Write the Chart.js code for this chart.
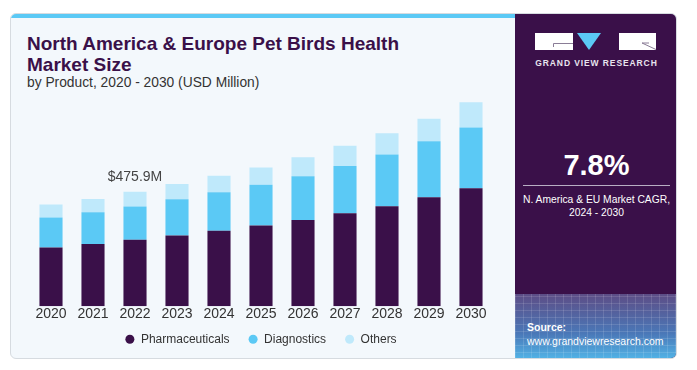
<!DOCTYPE html>
<html>
<head>
<meta charset="utf-8">
<script src="https://cdn.jsdelivr.net/npm/chart.js@4.4.1/dist/chart.umd.min.js"></script>
<style>
  body { margin: 0; width: 697px; height: 370px; background: #fff; font-family: "Liberation Sans", Arial, sans-serif; position: relative; overflow: hidden; }
  .card { position: absolute; left: 10px; top: 13px; width: 667px; height: 346px; background: #f3f8fc; border: 1px solid #d6dbe0; border-radius: 6px; box-sizing: border-box; overflow: hidden; }
  .strip { position: absolute; left: 0; top: 0; width: 504px; height: 4px; background: #5bc9f5; }
  .title { position: absolute; left: 16px; top: 19px; font-size: 19px; font-weight: bold; color: #3a1049; line-height: 21px; }
  .sub { position: absolute; left: 16px; top: 61px; font-size: 13.8px; color: #333; }
  .side { position: absolute; left: 504px; top: 0; width: 163px; height: 346px; background: #3a1049; color: #fff; text-align: center; }
  .grid { position: absolute; left: 0; bottom: 0; width: 100%; height: 66px;
          background: linear-gradient(#5d4d86, #4a78b8 60%, #52b6e8); }
  .grid::after { content: ""; position: absolute; inset: 0;
          background-image: repeating-linear-gradient(90deg, rgba(255,255,255,0.12) 0 1px, transparent 1px 8px),
                            repeating-linear-gradient(0deg, rgba(255,255,255,0.12) 0 1px, transparent 1px 7px); }
  .logo { position: absolute; left: 20px; top: 19px; }
  .brand { position: absolute; left: 0; width: 100%; top: 44px; font-size: 8.5px; font-weight: bold; letter-spacing: 0.9px; color: #e8e4ee; }
  .cagr { position: absolute; left: 0; width: 100%; top: 135px; font-size: 29px; font-weight: bold; }
  .rule { position: absolute; left: 8px; width: 147px; top: 171px; height: 1px; background: #b9aec4; }
  .cap { position: absolute; left: 0; width: 100%; top: 179px; font-size: 10.3px; line-height: 13.4px; }
  .src { position: absolute; left: 12px; top: 306px; font-size: 10.5px; line-height: 14px; text-align: left; z-index: 2; }
  .chartbox { position: absolute; left: 10px; top: 90px; width: 504px; height: 269px; }
</style>
</head>
<body>
<div class="card">
  <div class="strip"></div>
  <div class="title">North America &amp; Europe Pet Birds Health<br>Market Size</div>
  <div class="sub">by Product, 2020 - 2030 (USD Million)</div>
  <div class="side">
    <svg class="logo" width="122" height="17" viewBox="0 0 122 17">
      <rect x="0" y="0" width="38" height="17" fill="#fff"/>
      <path d="M38 10.5 H18.5 V14" stroke="#8a7d96" stroke-width="1" fill="none"/>
      <polygon points="42,0 66,0 54,17" fill="#5bc9f5"/>
      <rect x="84" y="0" width="37" height="17" fill="#fff"/>
      <path d="M107 10 L121 16.5 M107 10 H114" stroke="#8a7d96" stroke-width="1" fill="none"/>
    </svg>
    <div class="brand">GRAND VIEW RESEARCH</div>
    <div class="cagr">7.8%</div>
    <div class="rule"></div>
    <div class="cap">N. America &amp; EU Market CAGR,<br>2024 - 2030</div>
    <div class="grid"></div>
    <div class="src"><b>Source:</b><br>www.grandviewresearch.com</div>
  </div>
</div>
<div class="chartbox"><canvas id="chart"></canvas></div>
<script>
const years = ["2020", "2021", "2022", "2023", "2024", "2025", "2026", "2027", "2028", "2029", "2030"];
const pharmaceuticals = [244, 259, 276.1, 294, 314, 336, 359, 387, 416, 453, 491];
const diagnostics = [125, 132, 139.0, 151, 160, 169, 182, 196, 215, 233, 253];
const others = [54, 55, 60.8, 64, 69, 72, 79, 85, 89, 94, 105];
const calloutIndex = 2;
const calloutText = "$475.9M";

const FONT = "'Liberation Sans', Arial, sans-serif";

// value label above the 2022 bar
const callout = {
  id: "callout",
  afterDatasetsDraw(chart) {
    const bar = chart.getDatasetMeta(2).data[calloutIndex];
    const ctx = chart.ctx;
    ctx.save();
    ctx.font = "14px " + FONT;
    ctx.fillStyle = "#444";
    ctx.textAlign = "center";
    ctx.textBaseline = "middle";
    ctx.fillText(calloutText, bar.x, bar.y - 15);
    ctx.restore();
  }
};

// legend drawn under the axis, wider gaps than the built-in one allows
const dotLegend = {
  id: "dotLegend",
  afterDraw(chart) {
    const ctx = chart.ctx;
    const area = chart.chartArea;
    const r = 4.5, textGap = 6.5, itemGap = 19;
    ctx.save();
    ctx.font = "12px " + FONT;
    ctx.textBaseline = "middle";
    const items = chart.data.datasets.map((ds) => ({
      label: ds.label,
      color: ds.backgroundColor,
      w: r * 2 + textGap + ctx.measureText(ds.label).width
    }));
    const total = items.reduce((s, it) => s + it.w, 0) + itemGap * (items.length - 1);
    let x = (area.left + area.right) / 2 - total / 2;
    const y = area.bottom + 33;
    items.forEach((it) => {
      ctx.fillStyle = it.color;
      ctx.beginPath();
      ctx.arc(x + r, y, r, 0, Math.PI * 2);
      ctx.fill();
      ctx.fillStyle = "#333";
      ctx.fillText(it.label, x + r * 2 + textGap, y);
      x += it.w + itemGap;
    });
    ctx.restore();
  }
};

new Chart(document.getElementById("chart"), {
  type: "bar",
  data: {
    labels: years,
    datasets: [
      { label: "Pharmaceuticals", data: pharmaceuticals, backgroundColor: "#3a1049" },
      { label: "Diagnostics", data: diagnostics, backgroundColor: "#5bc9f5" },
      { label: "Others", data: others, backgroundColor: "#bfe9fb" }
    ]
  },
  options: {
    responsive: true,
    maintainAspectRatio: false,
    animation: false,
    layout: { padding: { left: 20, right: 22, top: 5, bottom: 36 } },
    datasets: { bar: { categoryPercentage: 1, barPercentage: 0.55 } },
    plugins: {
      legend: { display: false },
      tooltip: { enabled: false }
    },
    scales: {
      x: {
        stacked: true,
        grid: { display: false, drawTicks: false },
        border: { display: false },
        ticks: { color: "#333", padding: 0, font: { size: 14, family: FONT } }
      },
      y: { stacked: true, display: false, min: 0, max: 879 }
    }
  },
  plugins: [callout, dotLegend]
});
</script>
</body>
</html>
